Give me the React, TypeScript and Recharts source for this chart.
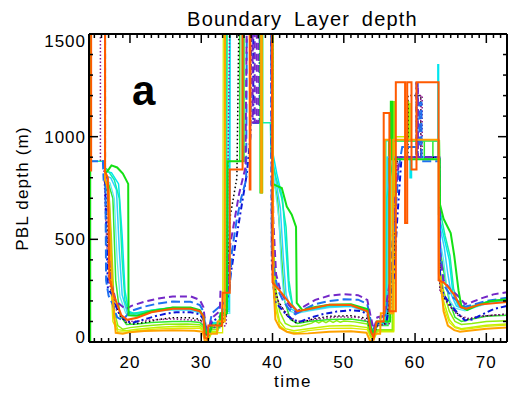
import React from "react";
import { LineChart, Line, XAxis, YAxis } from "recharts";

// ---- data: [time, PBL depth (m)] ----
const xTicks = Array.from({ length: 58 }, (_, i) => 15 + i);
const yTicks = [0, 100, 200, 300, 400, 500, 600, 700, 800, 900, 1000, 1100, 1200, 1300, 1400, 1500];

const purpleDash = [[14.25,1600],[16.5,1600],[16.5,820],[16.9,790],[17.2,320],[18,200],[19.4,160],[20.2,176],[22,196],[24,212],[26,222],[28.5,222],[29.8,205],[30.3,170],[30.6,80],[31,60],[31.6,120],[32.6,150],[32.7,250],[33.7,250],[33.8,420],[34.5,560],[35.3,720],[36.2,850],[36.4,1600],[37.2,1600],[37.2,1070],[37.5,1070],[37.5,1600],[37.8,1600],[37.8,1070],[38.1,1070],[38.1,1600],[39.9,1600],[40.1,600],[40.5,330],[41.2,240],[42.3,180],[43.3,145],[44.5,175],[46,205],[48,226],[50,233],[52,228],[53.3,205],[53.8,120],[54.2,60],[54.7,120],[55.7,130],[56.5,300],[57.2,700],[57.8,900],[60.2,900],[60.2,1260],[60.4,1260],[60.4,900],[63.4,900],[63.5,420],[64,300],[65,255],[66,225],[67,185],[68,195],[69.5,215],[71,232],[72.9,242]];
const blueDash = [[14.25,880],[16.2,880],[16.3,790],[16.55,790],[16.65,300],[17,225],[17.5,190],[18.2,120],[19,105],[20,150],[22,172],[24,188],[26,197],[28.5,196],[29.8,180],[30.3,150],[30.6,70],[31,50],[31.5,140],[32.5,170],[33.5,200],[34,260],[34.3,440],[35,600],[35.6,700],[36.3,790],[36.4,1600],[39.8,1600],[39.9,450],[40.3,330],[40.8,250],[41.5,200],[42.3,160],[43.2,135],[44.5,160],[46,185],[48,200],[50,208],[52,206],[53.3,185],[53.8,100],[54.2,60],[54.7,110],[55.8,130],[56.6,300],[57.2,600],[57.7,850],[58.2,950],[60.6,950],[60.6,1165],[60.9,1165],[60.9,880],[63.4,880],[63.5,470],[64,280],[65,225],[66,200],[67,172],[68,180],[70,200],[72.9,215]];
const aqua = [[14.25,880],[16.3,880],[16.4,850],[16.8,840],[17.8,790],[18.5,700],[18.9,400],[19.3,200],[19.9,140],[21,140],[23,155],[26,168],[28.5,166],[29.8,152],[30.3,120],[30.6,50],[31,40],[31.5,90],[32.6,90],[32.7,140],[33.5,140],[33.6,1600],[38.6,1600],[38.6,1068],[39.7,1068],[39.8,900],[40.5,800],[41.3,700],[41.9,560],[42.3,300],[42.8,180],[43.5,150],[45,160],[48,178],[51,180],[53.3,155],[53.8,80],[54.2,40],[54.7,100],[55.8,100],[55.9,980],[63.4,980],[63.5,640],[64.2,520],[64.9,420],[65.4,260],[66,190],[67,165],[68.5,180],[70.5,200],[72.9,210]];
const cyan1 = [[14.25,1600],[16.5,1600],[16.5,830],[17.4,825],[18.4,770],[18.9,520],[19.3,250],[19.8,150],[20.5,140],[22,148],[24,160],[26,166],[28.5,164],[29.8,150],[30.3,120],[30.6,60],[31,45],[31.5,95],[32.8,95],[32.9,160],[33.9,160],[34,1600],[39.9,1600],[40,930],[40.6,820],[41.4,700],[41.9,450],[42.3,250],[42.9,165],[43.6,150],[45,158],[48,176],[51,178],[53.3,152],[53.8,70],[54.2,35],[54.7,90],[55.9,90],[56,700],[57,900],[59.3,900],[59.3,800],[59.5,800],[59.5,900],[63.2,900],[63.2,1350],[63.3,1350],[63.3,620],[64,520],[64.8,400],[65.3,240],[66,180],[67,160],[68.5,178],[70.5,198],[72.9,205]];
const cyan2 = [[14.25,1600],[16.5,1600],[16.5,810],[17.3,800],[18.1,740],[18.5,450],[18.9,230],[19.6,145],[20.5,135],[22,142],[24,154],[26,160],[28.5,158],[29.8,146],[30.3,115],[30.6,55],[31,40],[31.5,90],[32.8,90],[32.9,150],[33.9,150],[34,1600],[39.9,1600],[40,900],[40.5,780],[41.1,650],[41.5,420],[41.9,230],[42.6,160],[43.5,148],[45,155],[48,172],[51,175],[53.3,148],[53.8,70],[54.2,35],[54.7,90],[56,90],[56.1,900],[63.4,900],[63.5,560],[64.1,460],[64.6,330],[65.1,230],[65.8,175],[67,158],[68.5,175],[70.5,195],[72.9,200]];
const cyan3 = [[14.25,1600],[16.5,1600],[16.5,790],[17.2,775],[17.8,700],[18.2,400],[18.6,220],[19.4,140],[20.5,130],[22,138],[24,150],[26,156],[28.5,154],[29.8,142],[30.3,110],[30.6,50],[31,38],[31.5,85],[32.8,85],[32.9,140],[34,140],[34.1,1600],[39.9,1600],[40,860],[40.4,740],[40.9,600],[41.2,380],[41.6,210],[42.4,150],[43.4,140],[45,150],[48,168],[51,172],[53.3,145],[53.8,65],[54.2,30],[54.7,85],[56,85],[56.1,900],[63.4,900],[63.5,500],[64,400],[64.4,280],[64.9,200],[65.6,165],[67,152],[68.5,170],[70.5,190],[72.9,196]];
const greenBright = [[14.42,0],[14.42,1600],[16.5,1600],[16.5,820],[17.0,840],[17.4,860],[18.2,850],[19.0,820],[19.75,770],[19.8,130],[21,128],[23,150],[26,168],[28.5,168],[29.8,155],[30.3,125],[30.6,50],[31,35],[31.5,80],[32.6,80],[32.7,140],[33.6,140],[33.7,880],[35.8,880],[35.8,1600],[38.3,1600],[38.3,728],[38.5,728],[38.5,1600],[40,1600],[40.05,770],[40.6,760],[41.3,750],[42,660],[42.7,620],[43.3,560],[43.4,190],[44.2,155],[46,170],[48,182],[51,184],[53.3,160],[53.8,70],[54.2,40],[54.7,100],[56.5,100],[56.6,1170],[56.8,1170],[56.8,890],[63.45,890],[63.5,670],[64,600],[65,530],[65.5,420],[66.1,250],[66.5,175],[67.3,155],[68.5,175],[70.5,198],[72.9,208]];
const orangeRed = [[14.55,830],[14.55,1600],[16.5,1600],[16.5,830],[16.9,800],[17.1,310],[17.8,220],[18.8,130],[19.6,108],[21,118],[23,145],[26,162],[28.5,162],[29.8,150],[30.3,125],[30.5,20],[30.9,15],[31.0,80],[32.9,80],[33.0,240],[34.0,240],[34.0,840],[35.8,840],[35.8,1600],[36.8,1600],[36.8,743],[36.9,743],[36.9,1600],[39.9,1600],[40.0,290],[41,250],[42.5,185],[43.5,150],[45,160],[48,182],[51,180],[53.3,150],[53.8,50],[54.2,20],[54.6,100],[55.6,100],[55.6,1115],[56.4,1115],[56.4,150],[57.3,150],[57.3,1265],[58.6,1265],[58.6,580],[58.9,580],[58.9,1265],[59.5,1265],[59.5,840],[60.2,840],[60.2,1265],[63.3,1265],[63.3,300],[64,290],[64.6,270],[65.5,230],[66.4,170],[67.2,162],[69,182],[72.9,195]];
const navy = [[14.25,1600],[16.5,1600],[16.5,800],[16.9,260],[17.5,230],[18.3,150],[19.5,100],[20.5,95],[21.5,105],[22.5,115],[23.5,125],[25,138],[26.5,145],[28.5,145],[29.8,135],[30.3,110],[30.6,45],[31,40],[31.5,100],[32.5,120],[33.5,160],[34,300],[34.8,480],[35.6,650],[36.4,820],[36.9,1000],[37.0,1600],[37.3,1600],[37.3,1068],[38.2,1068],[38.2,1600],[39.8,1600],[39.9,380],[40.3,200],[41,170],[42,130],[43,105],[44,100],[45,115],[47,135],[49,148],[51,155],[52.5,150],[53.3,135],[53.8,60],[54.2,40],[54.7,90],[56,100],[57,300],[57.5,600],[58.1,900],[60.2,900],[60.2,1260],[60.35,1260],[60.35,900],[63.4,900],[63.5,300],[64,230],[65,180],[66,140],[67,105],[68,110],[69.5,135],[71,160],[72.9,176]];
const blackDot = [[14.25,1600],[16.5,1600],[16.5,800],[17.0,400],[17.6,250],[18.5,130],[19.5,95],[20.5,88],[22,95],[24,110],[26,118],[28.5,118],[29.8,110],[30.3,95],[30.6,40],[31,35],[31.5,80],[33,90],[33.6,150],[34.0,600],[35.0,800],[35.3,1600],[40,1600],[40.1,280],[40.8,200],[42,130],[43.2,95],[44.5,100],[46,115],[48,125],[51,128],[53.3,115],[53.8,55],[54.2,35],[54.7,80],[56,90],[57,400],[57.5,900],[59,900],[59,1200],[60.8,1200],[60.8,900],[63.4,900],[63.5,260],[64,220],[65,170],[66.5,120],[67.5,110],[69,125],[72.9,136]];
const purpleDot = [[14.25,1600],[15.85,1600],[15.85,880],[16.3,880],[16.6,600],[17,300],[18,160],[19.2,105],[20.5,100],[23,108],[26,112],[29.8,105],[30.3,90],[30.6,40],[31,30],[31.5,70],[33.5,80],[34,1600],[40,1600],[40.1,260],[41,180],[42.5,120],[43.5,100],[46,110],[49,122],[52,120],[53.5,100],[54,40],[54.7,80],[56.5,90],[57.5,900],[60.8,900],[60.8,1200],[61.0,1200],[61.0,900],[63.4,900],[63.5,250],[64.5,190],[66,130],[67.5,115],[70,128],[72.9,135]];
const green2 = [[14.25,1600],[16.5,1600],[16.5,790],[17.0,770],[17.6,700],[18,300],[18.6,130],[19.5,85],[21,88],[23,95],[26,100],[28.5,100],[29.8,95],[30.3,80],[30.6,35],[31,30],[31.5,70],[32.6,70],[32.7,130],[33.5,130],[33.6,1600],[35.4,1600],[35.4,880],[36,880],[36,1600],[40,1600],[40.1,800],[40.7,700],[41.3,400],[41.7,200],[42.5,110],[43.5,90],[45,100],[48,110],[51,112],[53.3,100],[53.8,45],[54.2,30],[54.7,80],[56.2,80],[56.3,980],[61.3,980],[61.3,890],[62.5,890],[62.5,980],[63.4,980],[63.5,450],[64,350],[64.8,200],[65.6,120],[66.5,100],[68,112],[70,125],[72.9,130]];
const lime = [[14.25,1600],[16.5,1600],[16.5,790],[17.0,760],[17.4,500],[17.8,150],[18.3,80],[19,62],[20,70],[22,78],[25,86],[28,88],[29.8,84],[30.3,70],[30.6,25],[31,20],[31.5,60],[32.4,60],[32.5,110],[33.3,110],[33.4,1600],[38.5,1600],[38.5,728],[38.6,728],[38.6,1600],[40,1600],[40.1,500],[40.5,250],[41,150],[41.8,90],[42.7,75],[44,78],[45.5,92],[46,102],[46.5,93],[47,103],[47.5,94],[48,104],[48.5,95],[49,104],[49.5,96],[50,102],[51.5,98],[53.3,88],[53.8,30],[54.2,20],[54.7,60],[56.8,60],[56.9,1170],[57.1,1170],[57.1,980],[58.9,980],[59,1170],[59.1,1170],[59.1,980],[63.4,980],[63.5,350],[64,250],[64.8,150],[65.6,100],[66.5,85],[68,90],[70,100],[72.9,104]];
const yellowGreen = [[14.25,1600],[16.5,1600],[16.5,780],[16.9,740],[17.3,400],[17.7,120],[18.3,60],[19.5,55],[21,62],[24,72],[27,77],[29.8,74],[30.3,60],[30.6,20],[31,15],[31.5,50],[32.3,50],[32.4,100],[33.2,100],[33.3,1600],[40,1600],[40.1,400],[40.5,180],[41,100],[41.8,65],[43,55],[45,65],[48,78],[51,80],[53.3,70],[53.8,25],[54.2,15],[54.7,55],[57,55],[57.1,1000],[59.2,1000],[59.2,1160],[59.3,1160],[59.3,980],[63.4,980],[63.5,300],[64,200],[64.8,110],[65.6,75],[66.5,65],[68,72],[70,82],[72.9,88]];
const yellow = [[14.25,1600],[16.5,1600],[16.5,770],[16.9,720],[17.2,350],[17.6,100],[18.3,50],[19.5,48],[21,55],[24,64],[27,68],[29.8,66],[30.3,55],[30.6,15],[31,10],[31.5,45],[33,45],[33.1,1600],[40,1600],[40.1,350],[40.5,150],[41,80],[42,50],[43.5,45],[45,55],[48,66],[51,68],[53.3,60],[53.8,20],[54.2,10],[54.7,50],[57,50],[57.1,980],[63.4,980],[63.5,280],[64,170],[64.8,95],[65.6,70],[66.5,60],[68,66],[70,76],[72.9,82]];
const orange = [[14.25,1600],[16.5,1600],[16.5,790],[17.0,740],[17.6,200],[18.0,45],[19,40],[20,48],[22,53],[26,57],[29,55],[30.2,50],[30.5,5],[30.8,0],[31,40],[32.2,40],[32.3,100],[33.3,100],[33.35,1600],[38.4,1600],[38.4,728],[38.5,728],[38.5,1600],[40,1600],[40.1,300],[40.4,110],[41,70],[42,50],[43,40],[45,42],[48,50],[51,52],[53.2,45],[53.7,5],[54.0,0],[54.3,40],[55.1,40],[55.2,140],[55.7,140],[55.75,985],[56.5,985],[56.55,140],[56.9,140],[56.95,985],[63.3,985],[63.35,330],[63.6,300],[64,150],[64.6,80],[65.5,58],[66.3,50],[67.5,55],[70,65],[72.9,71]];

const toRows = (s: number[][]) => s.map(([t, v]) => ({ t, v }));

const series = [
  { name: "yellow", data: yellow, color: "#DDEB00", w: 1.3 },
  { name: "yellowGreen", data: yellowGreen, color: "#C4F000", w: 1.5 },
  { name: "lime", data: lime, color: "#8EEE10", w: 1.5 },
  { name: "green2", data: green2, color: "#30E830", w: 1.5 },
  { name: "cyan3", data: cyan3, color: "#60E8F0", w: 1.3 },
  { name: "cyan2", data: cyan2, color: "#30D0FF", w: 1.5 },
  { name: "cyan1", data: cyan1, color: "#00E6EE", w: 1.5 },
  { name: "aqua", data: aqua, color: "#10F0A8", w: 1.5 },
  { name: "blackDot", data: blackDot, color: "#000000", w: 1.5, dash: "1.5 2.5" },
  { name: "purpleDot", data: purpleDot, color: "#8B1A8B", w: 1.5, dash: "1.5 2" },
  { name: "navy", data: navy, color: "#0A14D8", w: 2, dash: "6 3 2 3" },
  { name: "blueDash", data: blueDash, color: "#1E70F0", w: 2, dash: "9 4" },
  { name: "purpleDash", data: purpleDash, color: "#7428C8", w: 2, dash: "7 4" },
  { name: "greenBright", data: greenBright, color: "#14E014", w: 2 },
  { name: "orange", data: orange, color: "#FFA200", w: 2 },
  { name: "orangeRed", data: orangeRed, color: "#FF5A00", w: 2 },
];

const FONT = "'Liberation Sans', Arial, Helvetica, sans-serif";

const BottomTick = (p: any) => {
  const v = p.payload.value;
  const major = v % 10 === 0;
  return (
    <g>
      <line x1={p.x} y1={p.y} x2={p.x} y2={p.y - (major ? 9 : 4)} stroke="#000" strokeWidth={1.5} />
      {major && (
        <text x={p.x} y={368} textAnchor="middle" fontSize={17} fontFamily={FONT} letterSpacing={1} fill="#000">
          {v}
        </text>
      )}
    </g>
  );
};

const TopTick = (p: any) => {
  const v = p.payload.value;
  const major = v % 10 === 0;
  return <line x1={p.x} y1={p.y} x2={p.x} y2={p.y + (major ? 9 : 4)} stroke="#000" strokeWidth={1.5} />;
};

const LeftTick = (p: any) => {
  const v = p.payload.value;
  const major = v % 500 === 0;
  let ty = p.y + 6;
  if (v === 1500) ty = p.y + 13;
  if (v === 0) ty = p.y + 1;
  return (
    <g>
      <line x1={p.x} y1={p.y} x2={p.x + (major ? 9 : 4)} y2={p.y} stroke="#000" strokeWidth={1.5} />
      {major && (
        <text x={p.x - 3} y={ty} textAnchor="end" fontSize={17} fontFamily={FONT} letterSpacing={1} fill="#000">
          {v}
        </text>
      )}
    </g>
  );
};

const RightTick = (p: any) => {
  const v = p.payload.value;
  const major = v % 500 === 0;
  return <line x1={p.x} y1={p.y} x2={p.x - (major ? 9 : 4)} y2={p.y} stroke="#000" strokeWidth={1.5} />;
};

export default function App() {
  return (
    <div style={{ position: "absolute", left: 0, top: 0, width: 509, height: 394, background: "#fff" }}>
      <LineChart width={509} height={394} margin={{ top: 0, right: 0, bottom: 0, left: 0 }}>
        <XAxis
          xAxisId="b"
          type="number"
          dataKey="t"
          domain={[14.25, 72.9]}
          allowDataOverflow
          ticks={xTicks}
          interval={0}
          height={52}
          tickSize={0}
          tickMargin={0}
          tickLine={false}
          axisLine={{ stroke: "#000", strokeWidth: 2 }}
          tick={(p: any) => <BottomTick {...p} />}
        />
        <XAxis
          xAxisId="top"
          orientation="top"
          type="number"
          dataKey="t"
          domain={[14.25, 72.9]}
          allowDataOverflow
          ticks={xTicks}
          interval={0}
          height={34}
          tickSize={0}
          tickMargin={0}
          tickLine={false}
          axisLine={{ stroke: "#000", strokeWidth: 2 }}
          tick={(p: any) => <TopTick {...p} />}
        />
        <YAxis
          yAxisId="l"
          type="number"
          domain={[0, 1500]}
          allowDataOverflow
          ticks={yTicks}
          interval={0}
          width={89}
          tickSize={0}
          tickMargin={0}
          tickLine={false}
          axisLine={{ stroke: "#000", strokeWidth: 2 }}
          tick={(p: any) => <LeftTick {...p} />}
        />
        <YAxis
          yAxisId="r"
          orientation="right"
          type="number"
          domain={[0, 1500]}
          allowDataOverflow
          ticks={yTicks}
          interval={0}
          width={2}
          tickSize={0}
          tickMargin={0}
          tickLine={false}
          axisLine={{ stroke: "#000", strokeWidth: 2 }}
          tick={(p: any) => <RightTick {...p} />}
        />
        <Line
          xAxisId="top"
          yAxisId="r"
          data={toRows(orange)}
          dataKey="v"
          stroke="none"
          dot={false}
          isAnimationActive={false}
        />
        {series.map((s) => (
          <Line
            key={s.name}
            xAxisId="b"
            yAxisId="l"
            data={toRows(s.data)}
            dataKey="v"
            type="linear"
            stroke={s.color}
            strokeWidth={s.w}
            strokeDasharray={s.dash}
            dot={false}
            activeDot={false}
            isAnimationActive={false}
          />
        ))}
      </LineChart>
      <svg width={509} height={394} style={{ position: "absolute", left: 0, top: 0, pointerEvents: "none" }}>
        <text x={302.5} y={26} textAnchor="middle" fontSize={20} fontFamily={FONT} letterSpacing={1.2} wordSpacing={5} fill="#000">
          Boundary Layer depth
        </text>
        <text x={132} y={105} fontSize={42} fontWeight="bold" fontFamily={FONT} fill="#000">
          a
        </text>
        <text transform="translate(27.5,188.5) rotate(-90)" textAnchor="middle" fontSize={17} fontFamily={FONT} letterSpacing={1.2} fill="#000">
          PBL depth (m)
        </text>
        <text x={293} y={387} textAnchor="middle" fontSize={17} fontFamily={FONT} letterSpacing={1.5} fill="#000">
          time
        </text>
      </svg>
    </div>
  );
}
